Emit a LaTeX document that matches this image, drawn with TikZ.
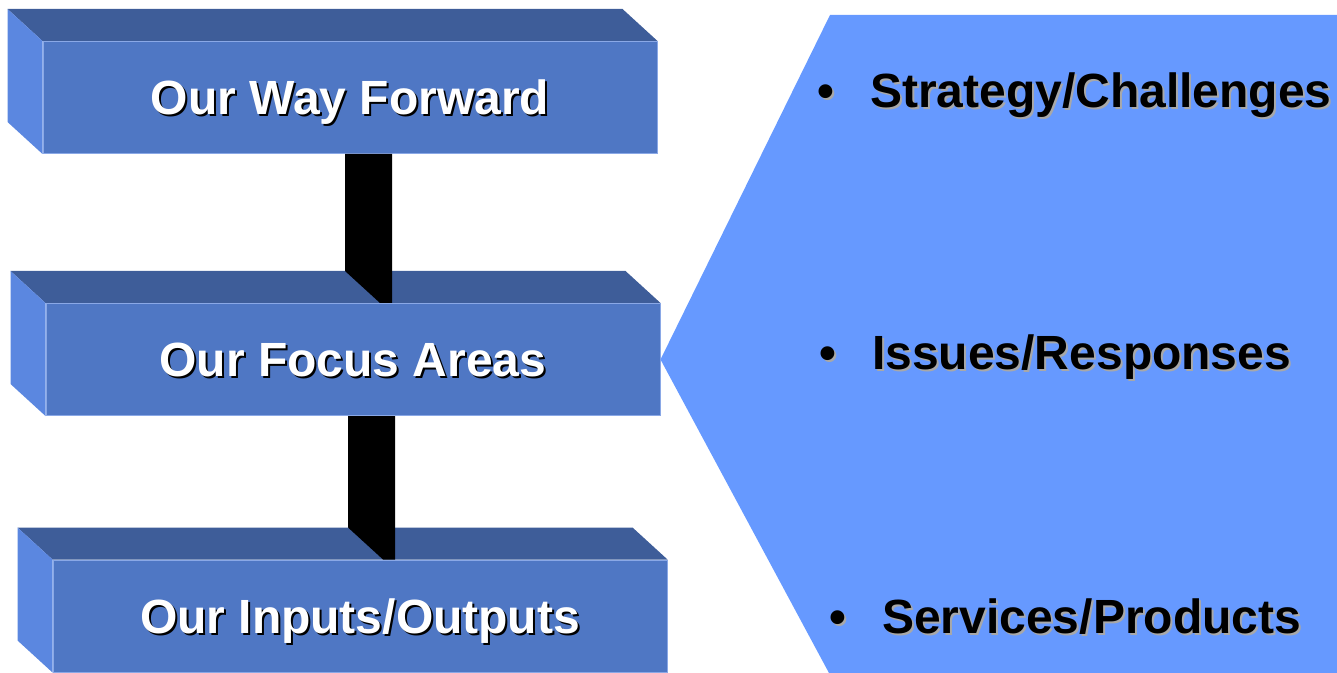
\documentclass[tikz,border=0pt]{standalone}
\usepackage{fontspec}
\setmainfont{Liberation Sans}
\usetikzlibrary{calc}
\definecolor{frontblue}{HTML}{4F77C4}
\definecolor{topblue}{HTML}{3E5D99}
\definecolor{sideblue}{HTML}{5B87E0}
\definecolor{panelblue}{HTML}{6699FF}
\definecolor{edgeblue}{HTML}{8AA8E6}
\definecolor{shadegray}{HTML}{A8A8A8}
\newcommand{\shadowed}[3]{\makebox[0pt][l]{\hspace{1pt}\raisebox{-1pt}{\color{#2}#3}}{\color{#1}#3}}
\begin{document}
\begin{tikzpicture}[x=0.5pt, y=-0.5pt,
  front/.style={rectangle, fill=frontblue, draw=edgeblue, line width=0.5pt, minimum width=307pt, minimum height=56pt, inner sep=0pt, text height=17.2pt, text depth=0pt, font=\fontsize{24}{28}\selectfont\bfseries},
  item/.style={anchor=base west, inner sep=0pt, font=\fontsize{24}{28}\selectfont\bfseries}]
      \useasboundingbox (0,0) rectangle (1337,673);
      \node (way) at (350,97.5) [front] {\shadowed{white}{black}{Our Way Forward}};
      \node (focus) at (353,359.5) [front] {\shadowed{white}{black}{Our Focus Areas}};
      \node (inputs) at (360,616) [front] {\shadowed{white}{black}{Our Inputs/Outputs}};
      \foreach \b in {way,focus,inputs} {
        \fill[topblue] (\b.north west) -- ++(-35,-32) -- ($(\b.north east)+(-35,-32)$) -- (\b.north east) -- cycle;
        \fill[sideblue] (\b.north west) -- ++(-35,-32) -- ($(\b.south west)+(-35,-32)$) -- (\b.south west) -- cycle;
      }
      \foreach \upper/\lower in {way/focus, focus/inputs}
        \fill[black] ($(\upper.south)+(-5,0)$) -- ($(\upper.south)+(42,0)$) -- ($(\upper.south |- \lower.north)+(42,0)$) -- ($(\upper.south |- \lower.north)+(30,0)$) -- ($(\upper.south |- \lower.north)+(-5,-32)$) -- cycle;
      \fill[panelblue] (focus.east) -- (830,15) -- (1337,15) -- (1337,673) -- (829,673) -- cycle;
      \node (strategy) at (817,108) [item] {\shadowed{black}{shadegray}{\textbullet\hspace{18pt}Strategy/Challenges}};
      \node (issues) at (819,370) [item] {\shadowed{black}{shadegray}{\textbullet\hspace{18pt}Issues/Responses}};
      \node (services) at (829,633) [item] {\shadowed{black}{shadegray}{\textbullet\hspace{18pt}Services/Products}};
\end{tikzpicture}
\end{document}
